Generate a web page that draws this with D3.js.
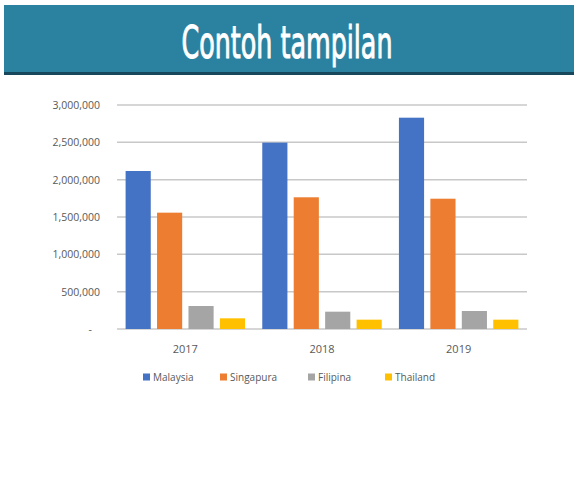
<!DOCTYPE html>
<html>
<head>
<meta charset="utf-8">
<script src="https://cdn.jsdelivr.net/npm/d3@7"></script>
<style>
  body { margin: 0; background: #fff; }
  svg { display: block; }
</style>
</head>
<body>
<svg id="chart" width="580" height="495"></svg>
<script>
// data
const years = ["2017", "2018", "2019"];
const countries = ["Malaysia", "Singapura", "Filipina", "Thailand"];
const malaysia = [2116000, 2496000, 2830000];
const singapura = [1558000, 1764000, 1745000];
const filipina = [308000, 232000, 241000];
const thailand = [143000, 125000, 125000];
const yTicks = [0, 500000, 1000000, 1500000, 2000000, 2500000, 3000000];

const seriesValues = [malaysia, singapura, filipina, thailand];
const colors = ["#4472C4", "#ED7D31", "#A5A5A5", "#FFC000"];

const svg = d3.select("#chart");

// header banner
svg.append("rect")
    .attr("x", 4).attr("y", 5)
    .attr("width", 570).attr("height", 70)
    .attr("fill", "#2b82a0");
svg.append("rect")
    .attr("x", 4).attr("y", 72)
    .attr("width", 570).attr("height", 3)
    .attr("fill", "#17475a");
svg.append("text")
    .attr("x", 287).attr("y", 58)
    .attr("text-anchor", "middle")
    .attr("textLength", 211)
    .attr("lengthAdjust", "spacingAndGlyphs")
    .style("font-family", "'Liberation Sans Narrow', 'DejaVu Sans Condensed', sans-serif")
    .style("font-size", "45px")
    .attr("fill", "#fff")
    .attr("stroke", "#fff")
    .attr("stroke-width", 1)
    .text("Contoh tampilan");

// plot area
const plotLeft = 117, plotRight = 527, plotTop = 105, plotBottom = 329;

const x0 = d3.scaleBand().domain(years).range([plotLeft, plotRight]).paddingInner(0).paddingOuter(0);
const x1 = d3.scaleBand().domain(countries).range([8.6, x0.bandwidth() - 8.6]).paddingInner(0.2).paddingOuter(0);
const y = d3.scaleLinear().domain([0, 3000000]).range([plotBottom, plotTop]);

// gridlines
svg.append("g")
    .selectAll("line")
    .data(yTicks)
    .join("line")
    .attr("x1", plotLeft).attr("x2", plotRight)
    .attr("y1", d => y(d)).attr("y2", d => y(d))
    .attr("stroke", "#c8c8c8")
    .attr("stroke-width", 1.5);

// y labels
const fmt = d3.format(",");
svg.append("g")
    .selectAll("text")
    .data(yTicks)
    .join("text")
    .attr("x", d => d === 0 ? 92 : 100)
    .attr("y", d => y(d) + 4)
    .attr("text-anchor", "end")
    .style("font-family", "'Open Sans', sans-serif")
    .style("font-size", "10.5px")
    .attr("fill", "#595959")
    .text(d => d === 0 ? "-" : fmt(d));

// bars
const groups = svg.append("g")
    .selectAll("g")
    .data(years)
    .join("g")
    .attr("transform", d => `translate(${x0(d)},0)`);

groups.selectAll("rect")
    .data((d, i) => countries.map((c, j) => ({ c: c, v: seriesValues[j][i], k: j })))
    .join("rect")
    .attr("x", d => x1(d.c))
    .attr("width", x1.bandwidth())
    .attr("y", d => y(d.v))
    .attr("height", d => plotBottom - y(d.v))
    .attr("fill", d => colors[d.k]);

// x labels
svg.append("g")
    .selectAll("text")
    .data(years)
    .join("text")
    .attr("x", d => x0(d) + x0.bandwidth() / 2)
    .attr("y", 353)
    .attr("text-anchor", "middle")
    .style("font-family", "'Open Sans', sans-serif")
    .style("font-size", "11px")
    .attr("fill", "#595959")
    .text(d => d);

// legend
const legendX = [143, 220, 308, 385];
const legend = svg.append("g")
    .selectAll("g")
    .data(countries)
    .join("g")
    .attr("transform", (d, i) => `translate(${legendX[i]},377)`);
legend.append("rect")
    .attr("x", 0).attr("y", -3.5)
    .attr("width", 7).attr("height", 7)
    .attr("fill", (d, i) => colors[i]);
legend.append("text")
    .attr("x", 10).attr("y", 3.5)
    .style("font-family", "'Open Sans', sans-serif")
    .style("font-size", "10px")
    .attr("fill", "#595959")
    .text(d => d);
</script>
</body>
</html>
